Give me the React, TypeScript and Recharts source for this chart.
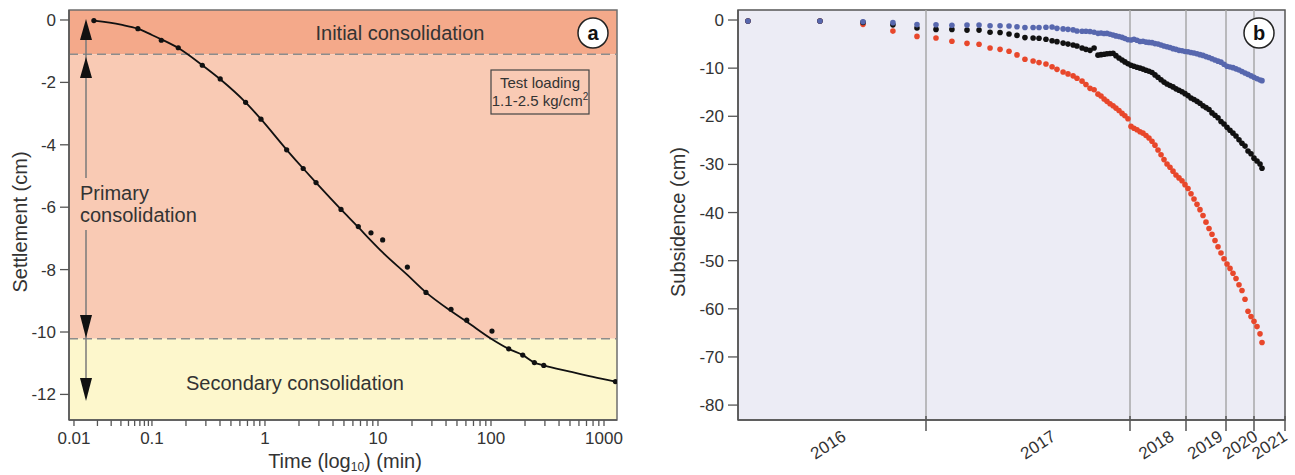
import React from 'react';
import { ComposedChart, Scatter, Line, XAxis, YAxis, ReferenceArea, ReferenceLine } from 'recharts';

// (a) oedometer test: settlement vs time (min)
const testTimes = [0.018, 0.066, 0.121, 0.171, 0.279, 0.402, 0.674, 0.922, 1.556, 2.18, 2.83, 4.71, 6.7, 8.67, 11, 18.2, 26.6, 44.3, 61, 102, 143.5, 191, 242, 293, 1262];
const testSettlement = [-0.02, -0.28, -0.65, -0.89, -1.45, -1.89, -2.64, -3.18, -4.16, -4.76, -5.21, -6.07, -6.62, -6.82, -7.05, -7.92, -8.73, -9.27, -9.62, -9.97, -10.54, -10.74, -10.98, -11.07, -11.59];
const fitTimes = [0.018, 0.04, 0.066, 0.1, 0.121, 0.171, 0.279, 0.402, 0.674, 0.922, 1.556, 2.18, 2.83, 4.71, 6.7, 8.67, 11, 18.2, 26.6, 44.3, 61, 102, 143.5, 191, 242, 293, 500, 800, 1262];
const fitSettlement = [-0.02, -0.15, -0.28, -0.48, -0.62, -0.9, -1.45, -1.9, -2.64, -3.18, -4.16, -4.76, -5.21, -6.07, -6.64, -7.07, -7.45, -8.17, -8.73, -9.33, -9.67, -10.23, -10.54, -10.74, -10.98, -11.07, -11.27, -11.44, -11.59];
const timeMajors = [0.01, 0.1, 1, 10, 100, 1000];
const timeLabels = ['0.01', '0.1', '1', '10', '100', '1000'];
const settlementTicks = [0, -2, -4, -6, -8, -10, -12];
const initialLimit = -1.1;
const primaryLimit = -10.22;

// (b) subsidence time series, three sites
const obsDates = [
  2016.053, 2016.436, 2016.665, 2016.824, 2016.952,
  2017.049, 2017.127, 2017.201, 2017.26, 2017.314, 2017.363, 2017.407, 2017.446, 2017.485, 2017.525, 2017.554, 2017.588, 2017.618, 2017.642, 2017.672, 2017.696, 2017.721, 2017.74, 2017.765, 2017.784, 2017.804, 2017.824, 2017.843,
  2017.858, 2017.873, 2017.887, 2017.902, 2017.917, 2017.931, 2017.946, 2017.961, 2017.975, 2017.99,
  2018.018, 2018.071, 2018.125, 2018.179, 2018.232, 2018.286, 2018.339, 2018.393, 2018.446, 2018.5, 2018.554, 2018.607, 2018.661, 2018.714, 2018.768, 2018.821, 2018.875, 2018.929, 2018.982,
  2019.05, 2019.125, 2019.2, 2019.275, 2019.35, 2019.425, 2019.5, 2019.575, 2019.65, 2019.725, 2019.8, 2019.875, 2019.95,
  2020.036, 2020.143, 2020.25, 2020.357, 2020.464, 2020.571, 2020.679, 2020.786, 2020.893,
  2021.0, 2021.097, 2021.194, 2021.258
];
const subsBlue = [
  -0.2, -0.2, -0.35, -0.55, -0.95,
  -0.97, -1.1, -1.05, -1.05, -1.18, -1.18, -1.25, -1.39, -1.55, -1.55, -1.55, -1.5, -1.45, -1.73, -1.85, -1.94, -2.05, -2.29, -2.35, -2.35, -2.4, -2.55, -2.77,
  -2.7, -2.8, -2.77, -2.95, -3.1, -3.3, -3.45, -3.6, -3.85, -4.1,
  -4.15, -4.0, -4.2, -4.45, -4.4, -4.6, -4.65, -4.7, -4.9, -5.0, -5.2, -5.4, -5.55, -5.7, -5.95, -6.1, -6.3, -6.4, -6.55,
  -6.6, -6.75, -6.85, -7.0, -7.2, -7.35, -7.6, -7.8, -8.05, -8.3, -8.55, -8.75, -9.2,
  -9.6, -9.75, -9.9, -10.15, -10.4, -10.7, -11.0, -11.3, -11.6,
  -11.9, -12.2, -12.45, -12.6
];
const subsBlack = [
  -0.2, -0.2, -0.5, -1.0, -1.65,
  -1.95, -1.95, -2.1, -2.1, -2.55, -2.6, -2.9, -3.2, -3.65, -3.75, -3.8, -4.0, -4.3, -4.5, -4.8, -5.0, -5.2, -5.4, -5.8, -6.1, -6.3, -5.8, -7.3,
  -7.2, -7.1, -7.0, -6.95, -6.9, -7.4, -7.9, -8.3, -8.7, -9.1,
  -9.4, -9.6, -9.8, -10.0, -10.2, -10.45, -10.65, -10.9, -11.4, -11.9, -12.4, -12.9, -13.3, -13.6, -13.9, -14.3, -14.6, -14.9, -15.3,
  -15.7, -16.2, -16.5, -16.9, -17.3, -17.8, -18.2, -18.6, -19.3, -19.8, -20.3, -21.1, -21.6,
  -22.3, -22.9, -23.5, -24.1, -24.9, -25.6, -26.2, -27.2, -27.8,
  -28.7, -29.3, -29.9, -30.8
];
const subsRed = [
  -0.2, -0.2, -0.9, -2.3, -3.4,
  -3.75, -4.4, -4.85, -5.05, -5.8, -6.1, -6.5, -7.25, -8.15, -8.5, -8.85, -9.15, -9.7, -10.25, -10.8, -11.2, -11.6, -12.1, -12.7, -13.4, -14.2, -14.5, -15.4,
  -15.8, -16.4, -16.9, -17.4, -17.8, -18.3, -18.8, -19.4, -19.9, -20.5,
  -22.1, -22.5, -22.8, -23.2, -23.5, -24.0, -24.5, -25.2, -26.0, -27.0, -28.0, -29.0, -29.9, -30.6, -31.4, -32.2, -32.8, -33.4, -34.2,
  -35.0, -36.1, -37.2, -38.3, -39.4, -40.6, -42.0, -43.3, -44.5, -45.8, -47.1, -48.4, -49.6,
  -50.7, -51.6, -52.6, -53.7, -55.0, -56.2, -58.0, -60.5, -61.6,
  -62.6, -63.7, -65.2, -67.0
];
const yearEdges = [2016, 2017, 2018, 2019, 2020, 2021, 2022];
// the time axis of (b) is not linear: each year gets its own length
const yearLengths = [188, 204, 56, 40, 28, 31];
const yearLabels = ['2016', '2017', '2018', '2019', '2020', '2021'];
const yearLabelDates = [2016.48, 2017.55, 2018.47, 2019.48, 2020.5, 2021.5];
const subsidenceTicks = [0, -10, -20, -30, -40, -50, -60, -70, -80];

const FONT = "'Liberation Sans', Arial, Helvetica, sans-serif";
const AXIS = '#555';
const TXT = '#333';

// in the source figure the 0.01-0.1 decade is drawn shorter than the others
function timeToAxis(t: number) {
  const lg = Math.log10(t);
  return lg >= -1 ? lg : -1 + (lg + 1) * 0.69;
}

function yearToAxis(d: number) {
  let pos = 0;
  for (let i = 0; i < yearLengths.length; i++) {
    if (d < yearEdges[i + 1] || i === yearLengths.length - 1) return pos + (d - yearEdges[i]) * yearLengths[i];
    pos += yearLengths[i];
  }
  return pos;
}

const testPoints = testTimes.map((t, i) => ({ x: timeToAxis(t), y: testSettlement[i] }));
const fitCurve = fitTimes.map((t, i) => ({ x: timeToAxis(t), y: fitSettlement[i] }));
const minorTimes: number[] = [];
[0.01, 0.1, 1, 10, 100].forEach(d => {
  for (let k = 2; k <= 9; k++) minorTimes.push(d * k);
});
const majorPos = timeMajors.map(timeToAxis);
const timeTicks = [...majorPos, ...minorTimes.map(timeToAxis)].sort((a, b) => a - b);
const xDomA: [number, number] = [-1.734, 3.115];
const yDomA: [number, number] = [-12.82, 0.32];

const blueData = obsDates.map((d, i) => ({ x: yearToAxis(d), y: subsBlue[i] }));
const blackData = obsDates.map((d, i) => ({ x: yearToAxis(d), y: subsBlack[i] }));
const redData = obsDates.map((d, i) => ({ x: yearToAxis(d), y: subsRed[i] }));
const edgePos = yearEdges.slice(1).map(yearToAxis);
const labelPos = yearLabelDates.map(yearToAxis);
const yearTicks = [...edgePos, ...labelPos].sort((a, b) => a - b);
const xDomB: [number, number] = [0, yearToAxis(2022)];
const yDomB: [number, number] = [-83.1, 2.08];

function TimeTick(props: any) {
  const { x, y, payload } = props;
  const idx = majorPos.findIndex(m => Math.abs(m - payload.value) < 1e-6);
  return (
    <g>
      <line x1={x} x2={x} y1={y} y2={y + 6} stroke={AXIS} strokeWidth={1.3} />
      {idx >= 0 && (
        <text x={x} y={y + 24} textAnchor="middle" fontSize={17} fill={TXT}>
          {timeLabels[idx]}
        </text>
      )}
    </g>
  );
}

function YearTick(props: any) {
  const { x, y, payload } = props;
  const li = labelPos.findIndex(p => Math.abs(p - payload.value) < 1e-6);
  if (li < 0) {
    return <line x1={x} x2={x} y1={y - 4} y2={y + 11} stroke={AXIS} strokeWidth={1.5} />;
  }
  const cy = y + 25;
  return (
    <text x={x} y={cy} transform={`rotate(-33 ${x} ${cy})`} textAnchor="middle" dominantBaseline="central" fontSize={17} fill={TXT}>
      {yearLabels[li]}
    </text>
  );
}

const dot = (color: string, r: number) => (p: any) => <circle cx={p.cx} cy={p.cy} r={r} fill={color} />;

function PanelA() {
  return (
    <ComposedChart width={630} height={475} margin={{ top: 10, right: 13, left: 19, bottom: 10 }}>
      <XAxis type="number" dataKey="x" domain={xDomA} allowDataOverflow ticks={timeTicks} interval={0}
        tick={<TimeTick />} tickLine={false} tickSize={0} tickMargin={0} height={45} axisLine={{ stroke: AXIS, strokeWidth: 1.5 }} />
      <YAxis type="number" dataKey="y" domain={yDomA} allowDataOverflow ticks={settlementTicks} interval={0} width={50}
        tickSize={9} tickMargin={4} tick={{ fontSize: 17, fill: TXT }} tickLine={{ stroke: AXIS, strokeWidth: 1.3 }}
        axisLine={{ stroke: AXIS, strokeWidth: 1.5 }} />
      <ReferenceArea x1={xDomA[0]} x2={xDomA[1]} y1={initialLimit} y2={yDomA[1]} fill="#F4A98A" fillOpacity={1} ifOverflow="visible" />
      <ReferenceArea x1={xDomA[0]} x2={xDomA[1]} y1={primaryLimit} y2={initialLimit} fill="#F9CAB4" fillOpacity={1} ifOverflow="visible" />
      <ReferenceArea x1={xDomA[0]} x2={xDomA[1]} y1={yDomA[0]} y2={primaryLimit} fill="#FDF7CC" fillOpacity={1} ifOverflow="visible" />
      <ReferenceLine y={initialLimit} stroke="#8C8C8C" strokeWidth={1.5} strokeDasharray="9 5" />
      <ReferenceLine y={primaryLimit} stroke="#8C8C8C" strokeWidth={1.5} strokeDasharray="9 5" />
      <Line data={fitCurve} dataKey="y" type="monotone" stroke="#111" strokeWidth={1.8} dot={false} isAnimationActive={false} />
      <Scatter data={testPoints} shape={dot('#111', 2.6)} isAnimationActive={false} />
      <ReferenceArea x1={xDomA[0]} x2={xDomA[1]} y1={yDomA[0]} y2={yDomA[1]} fill="none" stroke="#6E6E6E" strokeWidth={1.5} ifOverflow="visible" />
    </ComposedChart>
  );
}

function PanelB() {
  return (
    <ComposedChart width={655} height={475} margin={{ top: 10, right: 10, left: 48, bottom: 10 }}>
      <XAxis type="number" dataKey="x" domain={xDomB} allowDataOverflow ticks={yearTicks} interval={0}
        tick={<YearTick />} tickLine={false} tickSize={0} tickMargin={0} height={45} axisLine={{ stroke: AXIS, strokeWidth: 1.5 }} />
      <YAxis type="number" dataKey="y" domain={yDomB} allowDataOverflow ticks={subsidenceTicks} interval={0} width={50}
        tickSize={10} tickMargin={4} tick={{ fontSize: 17, fill: TXT }} tickLine={{ stroke: AXIS, strokeWidth: 1.3 }}
        axisLine={{ stroke: AXIS, strokeWidth: 1.5 }} />
      <ReferenceArea x1={xDomB[0]} x2={xDomB[1]} y1={yDomB[0]} y2={yDomB[1]} fill="#ECECF5" fillOpacity={1} ifOverflow="visible" />
      {edgePos.slice(0, -1).map(p => (
        <ReferenceLine key={p} x={p} stroke="#A9A9A9" strokeWidth={1.5} />
      ))}
      <Scatter data={redData} shape={dot('#E8472B', 2.8)} isAnimationActive={false} />
      <Scatter data={blackData} shape={dot('#111', 2.8)} isAnimationActive={false} />
      <Scatter data={blueData} shape={dot('#5767AE', 2.8)} isAnimationActive={false} />
      <ReferenceArea x1={xDomB[0]} x2={xDomB[1]} y1={yDomB[0]} y2={yDomB[1]} fill="none" stroke={AXIS} strokeWidth={1.5} ifOverflow="visible" />
    </ComposedChart>
  );
}

function Annotations() {
  const arrow = '#7A7A7A';
  return (
    <svg width={1295} height={475} style={{ position: 'absolute', left: 0, top: 0, pointerEvents: 'none' }}>
      <g fill={TXT} fontSize={20}>
        <text x={400} y={40} textAnchor="middle">Initial consolidation</text>
        <text x={80} y={200}>Primary</text>
        <text x={80} y={222}>consolidation</text>
        <text x={295} y={390} textAnchor="middle">Secondary consolidation</text>
        <text transform="translate(27 222) rotate(-90)" textAnchor="middle">Settlement (cm)</text>
        <text x={345} y={468} textAnchor="middle">
          Time (log<tspan fontSize={12} dy={3}>10</tspan><tspan dy={-3}>) (min)</tspan>
        </text>
        <text transform="translate(685 222) rotate(-90)" textAnchor="middle">Subsidence (cm)</text>
      </g>
      <rect x={491} y={70} width={98} height={44} fill="none" stroke="#444" strokeWidth={1.2} />
      <text x={540} y={88} textAnchor="middle" fontSize={15} fill={TXT}>Test loading</text>
      <text x={540} y={106} textAnchor="middle" fontSize={15} fill={TXT}>
        1.1-2.5 kg/cm<tspan fontSize={10} dy={-6}>2</tspan>
      </text>
      <line x1={86} x2={86} y1={30} y2={178} stroke={arrow} strokeWidth={1.5} />
      <line x1={86} x2={86} y1={230} y2={390} stroke={arrow} strokeWidth={1.5} />
      <polygon points="86,19 80,40 92,40" fill="#111" />
      <polygon points="86,57 80,78 92,78" fill="#111" />
      <polygon points="80,315 92,315 86,338" fill="#111" />
      <polygon points="80,378 92,378 86,401" fill="#111" />
      <circle cx={593} cy={33} r={15} fill="#fff" stroke="#222" strokeWidth={1.5} />
      <text x={593} y={40} textAnchor="middle" fontSize={20} fontWeight="bold" fill="#111">a</text>
      <circle cx={1259} cy={33} r={15} fill="#fff" stroke="#222" strokeWidth={1.5} />
      <text x={1259} y={40} textAnchor="middle" fontSize={20} fontWeight="bold" fill="#111">b</text>
    </svg>
  );
}

export default function App() {
  return (
    <div style={{ position: 'fixed', left: 0, top: 0, width: 1295, height: 475, background: '#fff', fontFamily: FONT }}>
      <div style={{ position: 'absolute', left: 0, top: 0 }}>
        <PanelA />
      </div>
      <div style={{ position: 'absolute', left: 640, top: 0 }}>
        <PanelB />
      </div>
      <Annotations />
    </div>
  );
}
